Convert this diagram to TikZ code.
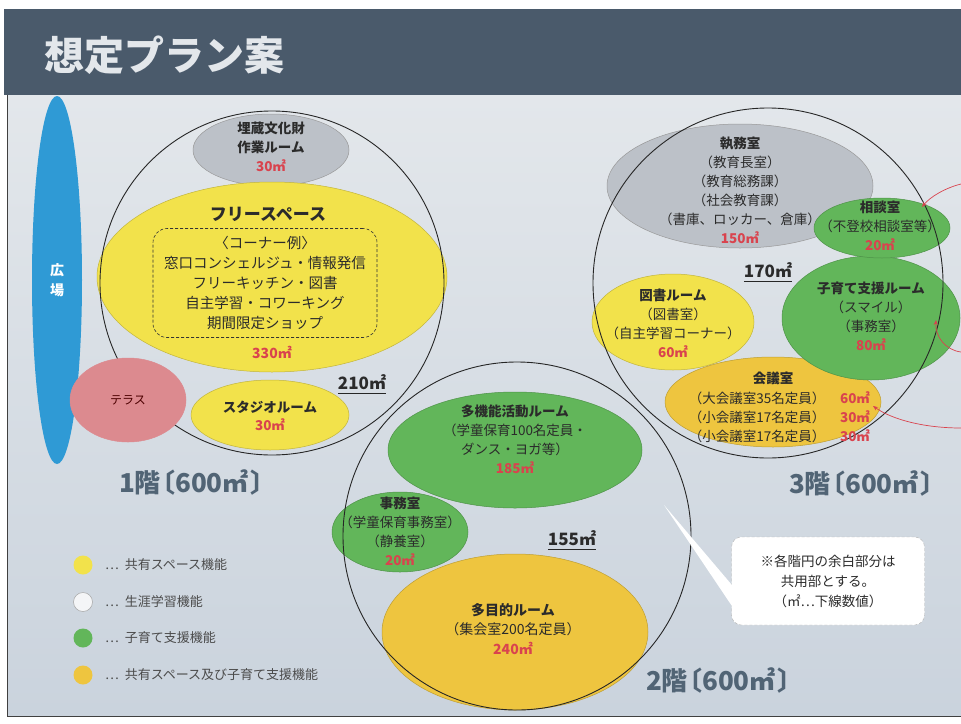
\documentclass[tikz,border=0pt]{standalone}
\usepackage{fontspec}
\setmainfont{Noto Sans CJK JP}
\usetikzlibrary{shapes.geometric,arrows.meta}
\definecolor{cyel}{HTML}{F2E24B}
\definecolor{cora}{HTML}{EEC53F}
\definecolor{cgrn}{HTML}{62B65A}
\definecolor{cgry}{HTML}{BCC1C8}
\definecolor{cblu}{HTML}{2F9AD5}
\definecolor{cpnk}{HTML}{DC8A8F}
\definecolor{cred}{HTML}{D9434E}
\definecolor{cbar}{HTML}{4A5A6B}
\definecolor{cflr}{HTML}{516475}
\definecolor{ctxt}{HTML}{2B2B2B}
\definecolor{cbgt}{HTML}{E3E7EB}
\definecolor{cbgb}{HTML}{CAD3DD}
\begin{document}
\begin{tikzpicture}[x=1pt,y=-1pt,
  room/.style={ellipse, inner sep=0pt, draw=black!40, line width=0.5pt, fill=#1},
  floorc/.style={circle, inner sep=0pt, draw=black!85, line width=0.9pt, minimum size=#1},
  txt/.style={align=center, inner sep=0pt, text=ctxt, font=\fontsize{13.5}{19}\selectfont},
  area/.style={inner sep=0pt, text=ctxt, font=\fontsize{17}{19}\selectfont\bfseries},
  uline/.style={line width=1pt, black!85},
  flr/.style={inner sep=0pt, text=cflr, font=\fontsize{26}{28}\selectfont\bfseries},
  leg/.style={circle, inner sep=0pt, minimum size=19pt},
  legt/.style={anchor=west, inner sep=0pt, text=ctxt!85, font=\fontsize{13}{16}\selectfont},
  redarr/.style={draw=cred, line width=0.7pt, -{Stealth[length=5pt,width=4pt]}}
]
\useasboundingbox (0,0) rectangle (961,723);
\fill[white] (0,0) rectangle (961,723);
% background
\shade[top color=cbgt, bottom color=cbgb] (8,95) rectangle (961,715);
\fill[cbar] (4,9) rectangle (961,95);
\draw[black!75, line width=1pt] (7,95) -- (7,716) -- (961,716);
\node[inner sep=0pt, text=cbgt, font=\fontsize{40}{44}\selectfont\bfseries, anchor=west] (title) at (44,55) {想定プラン案};

% plaza
\node[ellipse, inner sep=0pt, fill=cblu, minimum width=50pt, minimum height=368pt] (plaza) at (57,280) {};
\node[align=center, inner sep=0pt, text=white, font=\fontsize{14}{20}\selectfont\bfseries] (plazat) at (plaza.center) {広\\場};

% ---------- 1F ----------
\node[room=cgry, minimum width=156pt, minimum height=72pt] (maizo) at (271,150) {};
\node[room=cyel, draw=cyel!80!black, minimum width=350pt, minimum height=190pt] (free) at (272,277) {};
\node[room=cyel, draw=cyel!80!black, minimum width=158pt, minimum height=70pt] (studio) at (270,415) {};
\node[floorc=344pt] (f1) at (272,283) {};
\node[room=cpnk, draw=cpnk, minimum width=116pt, minimum height=84pt] (terrace) at (128,400) {};

\node[txt, font=\fontsize{13.5}{19}\selectfont\bfseries] (maizot) at (271,147) {埋蔵文化財\\作業ルーム\\{\color{cred}30㎡}};
\node[txt, font=\fontsize{17}{19}\selectfont\bfseries] (freet) at (268,214) {フリースペース};
\node[draw=black!80, densely dashed, line width=0.6pt, rounded corners=14pt, minimum width=224pt, minimum height=109pt, inner sep=0pt] (corner) at (265,283) {};
\node[txt, font=\fontsize{14.5}{20}\selectfont] (cornert) at (corner.center) {〈コーナー例〉\\窓口コンシェルジュ・情報発信\\フリーキッチン・図書\\自主学習・コワーキング\\期間限定ショップ};
\node[txt, font=\fontsize{14}{19}\selectfont\bfseries, text=cred] (freea) at (272,352) {330㎡};
\node[txt, font=\fontsize{12}{16}\selectfont, text=black!70!red] (terracet) at (terrace.center) {テラス};
\node[txt, font=\fontsize{13.5}{18}\selectfont\bfseries] (studiot) at (270,416) {スタジオルーム\\{\color{cred}30㎡}};
\node[area] (a1) at (362,382) {210㎡};
\draw[uline] ([yshift=-4pt]a1.base west) -- ([yshift=-4pt]a1.base east);
\node[flr] (fl1) at (198,482) {1階\kern-0.45em〔600㎡\kern0.08em〕};

% ---------- 3F ----------
\node[room=cgry, minimum width=266pt, minimum height=124pt] (shitsumu) at (740,186) {};
\node[room=cyel, draw=cyel!80!black, minimum width=162pt, minimum height=96pt] (tosho) at (673,322) {};
\node[room=cora, draw=cora!80!black, minimum width=216pt, minimum height=90pt] (kaigi) at (773,402) {};
\node[room=cgrn, draw=cgrn!80!black, minimum width=178pt, minimum height=124pt] (kosodate) at (871,318) {};
\node[room=cgrn, draw=cgrn!80!black, minimum width=136pt, minimum height=60pt] (sodan) at (882,228) {};
\node[floorc=350pt] (f3) at (768,283) {};

\node[txt] (shitsumut) at (740,190) {{\bfseries 執務室}\\（教育長室）\\（教育総務課）\\（社会教育課）\\（書庫、ロッカー、倉庫）\\{\bfseries\color{cred}150㎡}};
\node[txt] (sodant) at (880,226) {{\bfseries 相談室}\\（不登校相談室等）\\{\bfseries\color{cred}20㎡}};
\node[txt] (kosodatet) at (871,316) {{\bfseries 子育て支援ルーム}\\（スマイル）\\（事務室）\\{\bfseries\color{cred}80㎡}};
\node[txt] (toshot) at (673,323) {{\bfseries 図書ルーム}\\（図書室）\\（自主学習コーナー）\\{\bfseries\color{cred}60㎡}};
\node[txt, font=\fontsize{13.5}{19}\selectfont\bfseries] (kaigit) at (773,378) {会議室};
\node[txt] (kaigil) at (757,417) {（大会議室35名定員）\\（小会議室17名定員）\\（小会議室17名定員）};
\node[txt, font=\fontsize{13.5}{19}\selectfont\bfseries, text=cred] (kaigir) at (855,417) {60㎡\\30㎡\\30㎡};
\node[area] (a3) at (768,270) {170㎡};
\draw[uline] ([yshift=-4pt]a3.base west) -- ([yshift=-4pt]a3.base east);
\node[flr] (fl3) at (868,483) {3階\kern-0.45em〔600㎡\kern0.08em〕};

% ---------- 2F ----------
\node[room=cgrn, draw=cgrn!80!black, minimum width=254pt, minimum height=116pt] (takino) at (515,450) {};
\node[room=cgrn, draw=cgrn!80!black, minimum width=136pt, minimum height=80pt] (jimu) at (400,532) {};
\node[room=cora, draw=cora!80!black, minimum width=266pt, minimum height=156pt] (tamokuteki) at (515,632) {};
\node[floorc=348pt] (f2) at (517,536) {};

\node[txt] (takinot) at (515,439) {{\bfseries 多機能活動ルーム}\\（学童保育100名定員・\\ダンス・ヨガ等）\\{\bfseries\color{cred}185㎡}};
\node[txt] (jimut) at (400,531) {{\bfseries 事務室}\\（学童保育事務室）\\（静養室）\\{\bfseries\color{cred}20㎡}};
\node[txt, font=\fontsize{14}{19.5}\selectfont] (tamokutekit) at (513,629) {{\bfseries 多目的ルーム}\\（集会室200名定員）\\{\bfseries\color{cred}240㎡}};
\node[area] (a2) at (572,538) {155㎡};
\draw[uline] ([yshift=-4pt]a2.base west) -- ([yshift=-4pt]a2.base east);
\node[flr] (fl2) at (725,680) {2階\kern-0.45em〔600㎡\kern0.08em〕};

% ---------- note ----------
\coordinate (tip) at (664,505);
\node[fill=white, draw=black!30, densely dashed, rounded corners=10pt, minimum width=193pt, minimum height=88pt, inner sep=0pt] (note) at (828,581) {};
\fill[white] (tip) -- ([shift={(4pt,-8pt)}]note.west) -- ([shift={(4pt,-30pt)}]note.west) -- cycle;
\node[txt, font=\fontsize{13.5}{20}\selectfont] (notet) at (note.center) {※各階円の余白部分は\\共用部とする。\\（㎡…下線数値）};

% ---------- legend ----------
\node[leg, fill=cyel] (l1) at (83,565) {};
\node[leg, fill=white!60!cbgt, draw=black!35, line width=0.5pt] (l2) at (83,602) {};
\node[leg, fill=cgrn] (l3) at (83,638) {};
\node[leg, fill=cora] (l4) at (83,675) {};
\node[legt] (l1t) at (105,565) {…\ \ 共有スペース機能};
\node[legt] (l2t) at (105,602) {…\ \ 生涯学習機能};
\node[legt] (l3t) at (105,638) {…\ \ 子育て支援機能};
\node[legt] (l4t) at (105,675) {…\ \ 共有スペース及び子育て支援機能};

% ---------- handwritten red arrows ----------
\coordinate (r1) at (961,184);
\coordinate (r2) at (961,352);
\coordinate (r3) at (961,428);
\coordinate (r1e) at (922,207);
\coordinate (r2e) at (936,320);
\coordinate (r3e) at (873,406);
\draw[redarr] (r1) .. controls (945,188) and (930,197) .. (r1e);
\draw[redarr] (r2) .. controls (945,350) and (935,336) .. (r2e);
\draw[redarr] (r3) .. controls (925,428) and (893,420) .. (r3e);
\end{tikzpicture}
\end{document}
